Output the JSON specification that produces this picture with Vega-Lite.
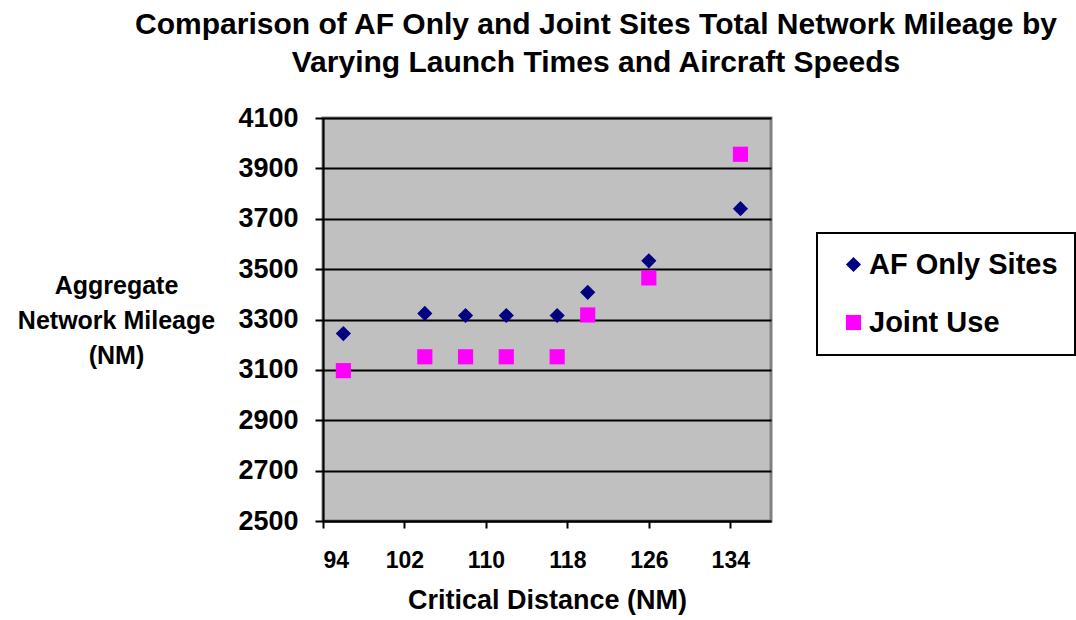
{
  "$schema": "https://vega.github.io/schema/vega-lite/v6.json",
  "autosize": {"type": "none"},
  "padding": {"left": 323, "top": 118, "right": 305, "bottom": 99},
  "width": 448,
  "height": 403,
  "background": "white",
  "title": {
    "text": ["Comparison of AF Only and Joint Sites Total Network Mileage by", "Varying Launch Times and Aircraft Speeds"],
    "font": "Liberation Sans",
    "fontSize": 30,
    "fontWeight": "bold",
    "color": "black",
    "lineHeight": 38,
    "anchor": "middle",
    "dx": 49,
    "offset": 26
  },
  "data": {
    "values": [
      {"distance": 96, "mileage": 3244, "series": "AF Only Sites"},
      {"distance": 104, "mileage": 3324, "series": "AF Only Sites"},
      {"distance": 108, "mileage": 3316, "series": "AF Only Sites"},
      {"distance": 112, "mileage": 3316, "series": "AF Only Sites"},
      {"distance": 117, "mileage": 3316, "series": "AF Only Sites"},
      {"distance": 120, "mileage": 3408, "series": "AF Only Sites"},
      {"distance": 126, "mileage": 3533, "series": "AF Only Sites"},
      {"distance": 135, "mileage": 3740, "series": "AF Only Sites"},
      {"distance": 96, "mileage": 3097, "series": "Joint Use"},
      {"distance": 104, "mileage": 3152, "series": "Joint Use"},
      {"distance": 108, "mileage": 3152, "series": "Joint Use"},
      {"distance": 112, "mileage": 3152, "series": "Joint Use"},
      {"distance": 117, "mileage": 3152, "series": "Joint Use"},
      {"distance": 120, "mileage": 3318, "series": "Joint Use"},
      {"distance": 126, "mileage": 3465, "series": "Joint Use"},
      {"distance": 135, "mileage": 3956, "series": "Joint Use"}
    ]
  },
  "mark": {"type": "point", "filled": true, "opacity": 1, "size": 230},
  "encoding": {
    "x": {
      "field": "distance",
      "type": "quantitative",
      "scale": {"domain": [94, 138], "nice": false, "zero": false},
      "axis": {
        "values": [94, 102, 110, 118, 126, 134],
        "format": "d",
        "grid": false,
        "domainColor": "black",
        "domainWidth": 2,
        "tickColor": "black",
        "tickWidth": 2,
        "tickSize": 7,
        "labelFont": "Liberation Sans",
        "labelFontSize": 23,
        "labelFontWeight": "bold",
        "labelColor": "black",
        "labelBaseline": "alphabetic",
        "labelPadding": 39,
        "title": "Critical Distance (NM)",
        "titleFont": "Liberation Sans",
        "titleFontSize": 27,
        "titleFontWeight": "bold",
        "titleColor": "black",
        "titleBaseline": "alphabetic",
        "titleY": 87
      }
    },
    "y": {
      "field": "mileage",
      "type": "quantitative",
      "scale": {"domain": [2500, 4100], "nice": false, "zero": false},
      "axis": {
        "values": [2500, 2700, 2900, 3100, 3300, 3500, 3700, 3900, 4100],
        "format": "d",
        "grid": true,
        "gridColor": "black",
        "gridWidth": 2,
        "gridOpacity": 1,
        "domainColor": "black",
        "domainWidth": 2,
        "tickColor": "black",
        "tickWidth": 2,
        "tickSize": 8,
        "labelFont": "Liberation Sans",
        "labelFontSize": 27,
        "labelFontWeight": "bold",
        "labelColor": "black",
        "labelPadding": 17,
        "title": ["Aggregate", "Network Mileage", "(NM)"],
        "titleFont": "Liberation Sans",
        "titleFontSize": 25,
        "titleFontWeight": "bold",
        "titleColor": "black",
        "titleAngle": 0,
        "titleAlign": "center",
        "titleBaseline": "middle",
        "titleLineHeight": 35,
        "titleX": -207,
        "titleY": 167
      }
    },
    "color": {
      "field": "series",
      "type": "nominal",
      "scale": {"domain": ["AF Only Sites", "Joint Use"], "range": ["#000080", "#FF00FF"]},
      "legend": {
        "title": null,
        "orient": "none",
        "legendX": 494,
        "legendY": 115,
        "strokeColor": "black",
        "fillColor": "white",
        "padding": 17,
        "rowPadding": 28,
        "symbolSize": 230,
        "symbolOffset": 5,
        "symbolStrokeWidth": 0,
        "labelFont": "Liberation Sans",
        "labelFontSize": 29,
        "labelFontWeight": "bold",
        "labelColor": "black",
        "labelOffset": 1,
        "labelLimit": 400
      }
    },
    "shape": {
      "field": "series",
      "type": "nominal",
      "scale": {"domain": ["AF Only Sites", "Joint Use"], "range": ["diamond", "square"]}
    }
  },
  "config": {
    "view": {"fill": "#C0C0C0", "stroke": "#808080", "strokeWidth": 3},
    "legend": {"strokeWidth": 2}
  }
}
